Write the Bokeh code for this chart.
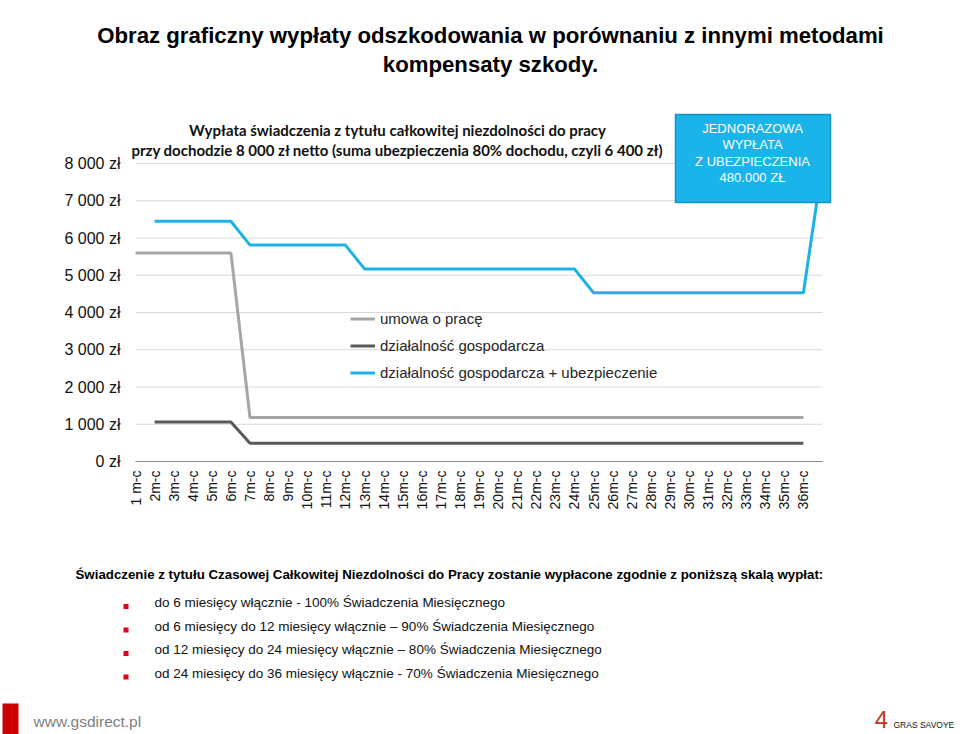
import math
from bokeh.plotting import figure
from bokeh.models import Range1d, FixedTicker, Label, BoxAnnotation, Legend, LegendItem
from bokeh.embed import file_html
from bokeh.resources import INLINE

# ---------------- data ----------------
month_labels = ["1 m-c", "2m-c", "3m-c", "4m-c", "5m-c", "6m-c", "7m-c", "8m-c", "9m-c",
                "10m-c", "11m-c", "12m-c", "13m-c", "14m-c", "15m-c", "16m-c", "17m-c",
                "18m-c", "19m-c", "20m-c", "21m-c", "22m-c", "23m-c", "24m-c", "25m-c",
                "26m-c", "27m-c", "28m-c", "29m-c", "30m-c", "31m-c", "32m-c", "33m-c",
                "34m-c", "35m-c", "36m-c"]
month_idx = [1, 2, 3, 4, 5, 6, 7, 8, 9, 10, 11, 12, 13, 14, 15, 16, 17, 18, 19, 20,
             21, 22, 23, 24, 25, 26, 27, 28, 29, 30, 31, 32, 33, 34, 35, 36]

# umowa o pracę (months 1..36)
umowa_x = [1, 2, 3, 4, 5, 6, 7, 8, 9, 10, 11, 12, 13, 14, 15, 16, 17, 18, 19, 20,
           21, 22, 23, 24, 25, 26, 27, 28, 29, 30, 31, 32, 33, 34, 35, 36]
umowa_y = [5600, 5600, 5600, 5600, 5600, 5600, 1180, 1180, 1180, 1180, 1180, 1180,
           1180, 1180, 1180, 1180, 1180, 1180, 1180, 1180, 1180, 1180, 1180, 1180,
           1180, 1180, 1180, 1180, 1180, 1180, 1180, 1180, 1180, 1180, 1180, 1180]

# działalność gospodarcza (months 2..36)
dzial_x = [2, 3, 4, 5, 6, 7, 8, 9, 10, 11, 12, 13, 14, 15, 16, 17, 18, 19, 20,
           21, 22, 23, 24, 25, 26, 27, 28, 29, 30, 31, 32, 33, 34, 35, 36]
dzial_y = [1060, 1060, 1060, 1060, 1060, 490, 490, 490, 490, 490, 490, 490, 490, 490,
           490, 490, 490, 490, 490, 490, 490, 490, 490, 490, 490, 490, 490, 490, 490,
           490, 490, 490, 490, 490, 490]

# działalność gospodarcza + ubezpieczenie (months 2..36, then the lump-sum point)
ubezp_x = [2, 3, 4, 5, 6, 7, 8, 9, 10, 11, 12, 13, 14, 15, 16, 17, 18, 19, 20,
           21, 22, 23, 24, 25, 26, 27, 28, 29, 30, 31, 32, 33, 34, 35, 36, 37]
ubezp_y = [6450, 6450, 6450, 6450, 6450, 5810, 5810, 5810, 5810, 5810, 5810,
           5170, 5170, 5170, 5170, 5170, 5170, 5170, 5170, 5170, 5170, 5170, 5170,
           4530, 4530, 4530, 4530, 4530, 4530, 4530, 4530, 4530, 4530, 4530, 4530,
           8000]

y_ticks = [0, 1000, 2000, 3000, 4000, 5000, 6000, 7000, 8000]
y_tick_labels = ["0 zł", "1 000 zł", "2 000 zł", "3 000 zł", "4 000 zł",
                 "5 000 zł", "6 000 zł", "7 000 zł", "8 000 zł"]

series_names = ["umowa o pracę", "działalność gospodarcza",
                "działalność gospodarcza + ubezpieczenie"]

title_lines = ["Obraz graficzny wypłaty odszkodowania w porównaniu z innymi metodami",
               "kompensaty szkody."]
subtitle_lines = ["Wypłata świadczenia z tytułu całkowitej niezdolności do pracy",
                  "przy dochodzie 8 000 zł netto (suma ubezpieczenia 80% dochodu, czyli 6 400 zł)"]
box_lines = ["JEDNORAZOWA", "WYPŁATA", "Z UBEZPIECZENIA", "480.000 ZŁ"]
note_header = ("Świadczenie z tytułu Czasowej Całkowitej Niezdolności do Pracy zostanie "
               "wypłacone zgodnie z poniższą skalą wypłat:")
note_items = ["do 6 miesięcy włącznie - 100% Świadczenia Miesięcznego",
              "od 6 miesięcy do 12 miesięcy włącznie – 90% Świadczenia Miesięcznego",
              "od 12 miesięcy do 24 miesięcy włącznie – 80% Świadczenia Miesięcznego",
              "od 24 miesięcy do 36 miesięcy włącznie - 70% Świadczenia Miesięcznego"]

# ---------------- layout ----------------
W, H = 960, 734
# plot-area placement on the page (pixels): month 1 -> x 135, month 37 -> x 822,
# value 0 -> y 461, value 8000 -> y 163
PX_L, PX_R, PY_B, PY_T = 135.0, 822.0, 461.0, 163.0
X0, X1, V0, V1 = 1.0, 37.0, 0.0, 8000.0
sx = (PX_R - PX_L) / (X1 - X0)
sy = (PY_B - PY_T) / (V1 - V0)
x_start = X0 - PX_L / sx
x_end = x_start + W / sx
y_start = V0 - (H - PY_B) / sy
y_end = y_start + H / sy

SANS = "Liberation Sans"

p = figure(width=W, height=H, output_backend="svg", toolbar_location=None,
           x_range=Range1d(x_start, x_end), y_range=Range1d(y_start, y_end),
           min_border=0)
p.outline_line_color = None
p.background_fill_color = "white"
p.border_fill_color = "white"
p.xgrid.visible = False
p.ygrid.visible = False

# horizontal gridlines limited to the chart area
p.segment(x0=[X0] * len(y_ticks), y0=y_ticks, x1=[X1] * len(y_ticks), y1=y_ticks,
          line_color="#D9D9D9", line_width=1)

p.yaxis.fixed_location = X0
p.yaxis.bounds = (V0, V1)
p.yaxis.ticker = FixedTicker(ticks=y_ticks)
p.yaxis.major_label_overrides = {t: l for t, l in zip(y_ticks, y_tick_labels)}
p.yaxis.axis_line_color = None
p.yaxis.major_tick_line_color = None
p.yaxis.minor_tick_line_color = None
p.yaxis.major_tick_out = 0
p.yaxis.major_tick_in = 0
p.yaxis.major_label_standoff = 15
p.yaxis.major_label_text_font = SANS
p.yaxis.major_label_text_font_size = "16px"
p.yaxis.major_label_text_color = "#111111"

p.xaxis.fixed_location = V0
p.xaxis.bounds = (X0, X1)
p.xaxis.ticker = FixedTicker(ticks=month_idx)
p.xaxis.major_label_overrides = {t: l for t, l in zip(month_idx, month_labels)}
p.xaxis.major_label_orientation = math.pi / 2
p.xaxis.axis_line_color = "#8C8C8C"
p.xaxis.axis_line_width = 1
p.xaxis.major_tick_line_color = None
p.xaxis.minor_tick_line_color = None
p.xaxis.major_tick_out = 0
p.xaxis.major_tick_in = 0
p.xaxis.major_label_standoff = 9
p.xaxis.major_label_text_font = SANS
p.xaxis.major_label_text_font_size = "14px"
p.xaxis.major_label_text_color = "#111111"

r1 = p.line(umowa_x, umowa_y, line_color="#A6A6A6", line_width=3)
r2 = p.line(dzial_x, dzial_y, line_color="#595959", line_width=3)
r3 = p.line(ubezp_x, ubezp_y, line_color="#1DB2E6", line_width=3)

legend = Legend(items=[LegendItem(label=series_names[0], renderers=[r1]),
                       LegendItem(label=series_names[1], renderers=[r2]),
                       LegendItem(label=series_names[2], renderers=[r3])],
                location=(350, H - 386),
                padding=0, spacing=0, margin=0,
                label_height=27, glyph_height=27, glyph_width=25,
                label_standoff=5, border_line_color=None,
                background_fill_alpha=0,
                label_text_font=SANS, label_text_font_size="15px",
                label_text_color="#262626")
p.add_layout(legend)


def lab(text, px, py, size, font=SANS, style="normal", color="#000000", align="left"):
    p.add_layout(Label(x=px, y=H - py, x_units="screen", y_units="screen",
                       text=text, text_font=font, text_font_size=size,
                       text_font_style=style, text_color=color,
                       text_align=align, text_baseline="middle"))


def box(x0, y0, x1, y1, fill, line=None, lw=1):
    p.add_layout(BoxAnnotation(left=x0, right=x1, top=H - y0, bottom=H - y1,
                               left_units="screen", right_units="screen",
                               top_units="screen", bottom_units="screen",
                               fill_color=fill, fill_alpha=1,
                               line_color=line, line_width=lw, line_alpha=1))


# title
lab(title_lines[0], 490, 35, "22.2px", SANS, "bold", align="center")
lab(title_lines[1], 490, 64, "22.2px", SANS, "bold", align="center")

# chart subtitle
lab(subtitle_lines[0], 397, 129, "15px", "Lato", "bold", "#111111", "center")
lab(subtitle_lines[1], 397, 149, "15px", "Lato", "bold", "#111111", "center")

# lump sum box
box(675, 114, 830, 202, "#1BB4EA", "#1593C4", 1.5)
for i, t in enumerate(box_lines):
    lab(t, 752, 127.5 + i * 16.5, "13px", SANS, "normal", "#FFFFFF", "center")

# notes
lab(note_header, 75, 574, "13.3px", SANS, "bold")
for i, t in enumerate(note_items):
    cy = 602 + i * 23.5
    box(123, cy + 1.5, 128, cy + 6.5, "#E2001A")
    lab(t, 154, cy, "13.5px", SANS, "normal", "#111111")

# footer
box(2, 703, 18, 734, "#CC0000")
lab("www.gsdirect.pl", 33, 721, "15.5px", SANS, "normal", "#808080")
lab("4", 881, 719, "24px", SANS, "normal", "#C0392B", "center")
lab("GRAS SAVOYE", 893, 724, "8.5px", SANS, "normal", "#111111")

open("out.html", "w").write(file_html(p, INLINE))
